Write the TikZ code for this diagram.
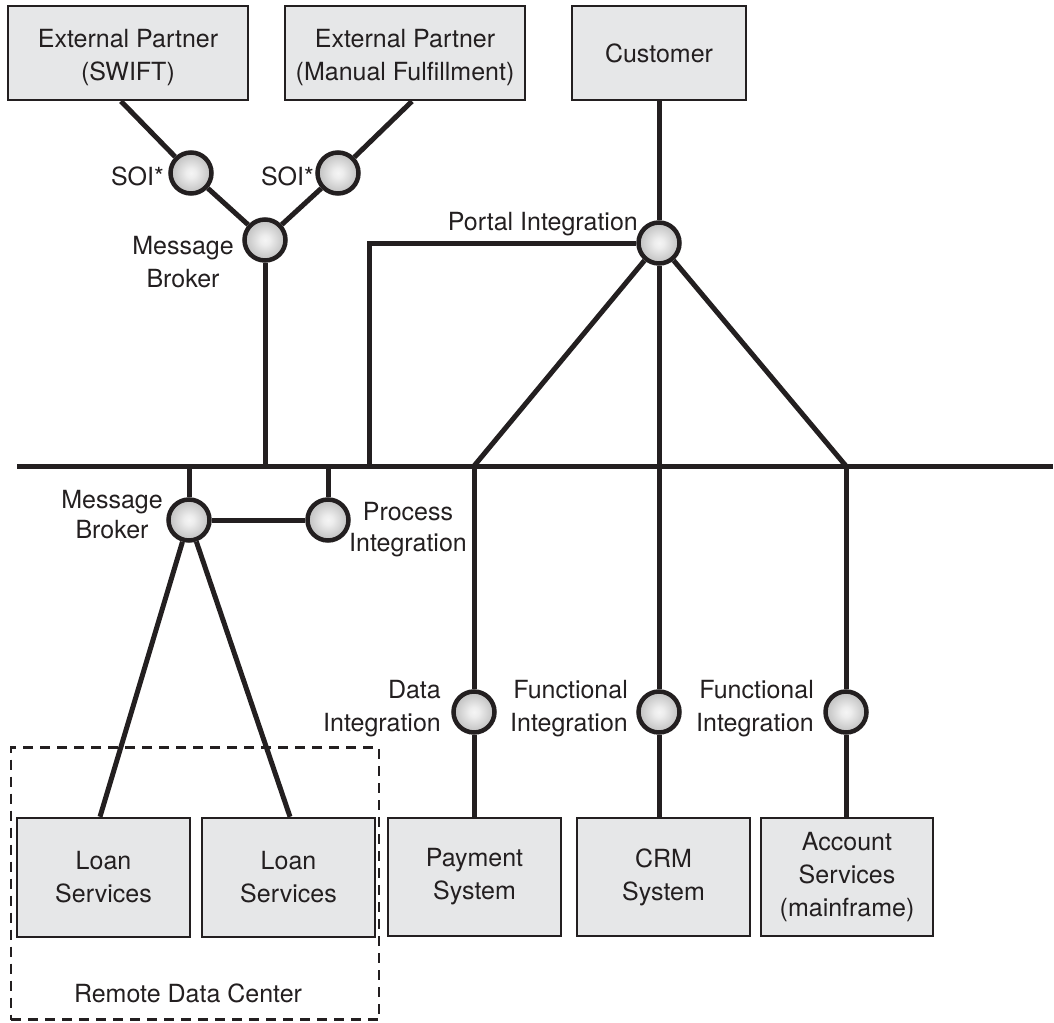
\documentclass[tikz,border=0pt]{standalone}
\usepackage{fontspec}
\setmainfont{TeX Gyre Heros}
\usetikzlibrary{calc}
\definecolor{ink}{HTML}{231F20}
\definecolor{boxfill}{HTML}{E6E7E8}
\pgfdeclareradialshading{sphere}{\pgfpoint{0bp}{0bp}}{color(0bp)=(white!96!black); color(6bp)=(white!93!black); color(30bp)=(white!70!black); color(50bp)=(white!45!black)}
\begin{document}
\begin{tikzpicture}[x=1pt,y=-1pt,
  txt/.style={text=ink, font=\fontsize{25}{33}\selectfont},
  sysbox/.style={txt, draw=ink, fill=boxfill, line width=2.5pt, inner sep=0pt, align=center},
  hub/.style={circle, draw=ink, line width=4.5pt, minimum size=41pt, inner sep=0pt, shading=sphere},
  wire/.style={draw=ink, line width=5pt},
  lbl/.style={txt, inner sep=0pt},
  region/.style={draw=ink, line width=2.5pt, dash pattern=on 10pt off 7pt}]
\useasboundingbox (0,0) rectangle (1054,1022);

% boxes
\node[sysbox, minimum width=240pt, minimum height=94pt] (swift) at (128,53) {\rule{0pt}{27pt}External Partner\\(SWIFT)};
\node[sysbox, minimum width=240pt, minimum height=94pt] (manual) at (405,53) {\rule{0pt}{27pt}External Partner\\(Manual Fulfillment)};
\node[sysbox, minimum width=174pt, minimum height=94pt] (cust) at (659,53) {Customer};
\node[region, minimum width=368pt, minimum height=272pt] (rdc) at (195,883.5) {};
\node[sysbox, minimum width=173pt, minimum height=119pt] (loan1) at (103.5,877.5) {Loan\\Services};
\node[sysbox, minimum width=173pt, minimum height=119pt] (loan2) at (288.5,877.5) {Loan\\Services};
\node[sysbox, minimum width=173pt, minimum height=118pt] (pay) at (474.5,877) {Payment\\System};
\node[sysbox, minimum width=173pt, minimum height=118pt] (crm) at (663.5,877) {CRM\\System};
\node[sysbox, minimum width=172pt, minimum height=118pt] (acct) at (847,877) {Account\\Services\\(mainframe)};
\node[lbl] (rdclbl) at (188,993) {Remote Data Center};

% hubs
\node[hub] (soi1) at (191,173) {};
\node[hub] (soi2) at (338,173) {};
\node[hub] (mb1) at (265,240) {};
\node[hub] (portal) at (659,243) {};
\node[hub] (mb2) at (189,520) {};
\node[hub] (pi) at (328,520) {};
\node[hub] (di) at (474,712) {};
\node[hub] (fi1) at (659,712) {};
\node[hub] (fi2) at (846,712) {};

% labels
\node[lbl, anchor=east] (soi1lbl) at (164,176) {SOI*};
\node[lbl, anchor=east] (soi2lbl) at (314,176) {SOI*};
\node[lbl, align=center] (mb1lbl) at (183,262) {Message\\Broker};
\node[lbl, anchor=east] (portallbl) at (638,224) {Portal Integration};
\node[lbl, align=center, font=\fontsize{25}{30}\selectfont] (mb2lbl) at (112,515) {Message\\Broker};
\node[lbl, align=center, font=\fontsize{25}{31}\selectfont] (pilbl) at (408,530) {Process\\Integration};
\node[lbl, align=right, anchor=east] (dilbl) at (441,709) {Data\\Integration};
\node[lbl, align=right, anchor=east] (fi1lbl) at (628,709) {Functional\\Integration};
\node[lbl, align=right, anchor=east] (fi2lbl) at (814,709) {Functional\\Integration};

% bus and junctions
\coordinate (busL) at (17,466);
\coordinate (busR) at (1053,466);
\coordinate (jMB1) at (265,466);
\coordinate (jMB2) at (189,466);
\coordinate (jPI) at (328,466);
\coordinate (corner) at (369,243);
\coordinate (jRect) at (369,466);
\coordinate (jPay) at (474,466);
\coordinate (jAcct) at (846,466);

\draw[wire] (busL) -- (busR);
\draw[wire] ([xshift=-7pt]swift.south) -- (soi1);
\draw[wire] (soi1) -- (mb1);
\draw[wire] ([xshift=7pt]manual.south) -- (soi2);
\draw[wire] (soi2) -- (mb1);
\draw[wire] (mb1) -- (jMB1);
\draw[wire] (cust) -- (portal);
\draw[wire, line join=miter] (portal) -- (corner) -- (jRect);
\draw[wire] (portal) -- (jPay);
\draw[wire] (portal) -- (jAcct);
\draw[wire] (portal) -- (fi1);
\draw[wire] (fi1) -- (crm.north -| fi1);
\draw[wire] (jPay) -- (di);
\draw[wire] (di) -- (pay.north -| di);
\draw[wire] (jAcct) -- (fi2);
\draw[wire] (fi2) -- (acct.north -| fi2);
\draw[wire] (jMB2) -- (mb2);
\draw[wire] (jPI) -- (pi);
\draw[wire] (mb2) -- (pi);
\draw[wire] (mb2) -- ([xshift=-3.5pt]loan1.north);
\draw[wire] (mb2) -- ([xshift=1.5pt]loan2.north);
\end{tikzpicture}
\end{document}
